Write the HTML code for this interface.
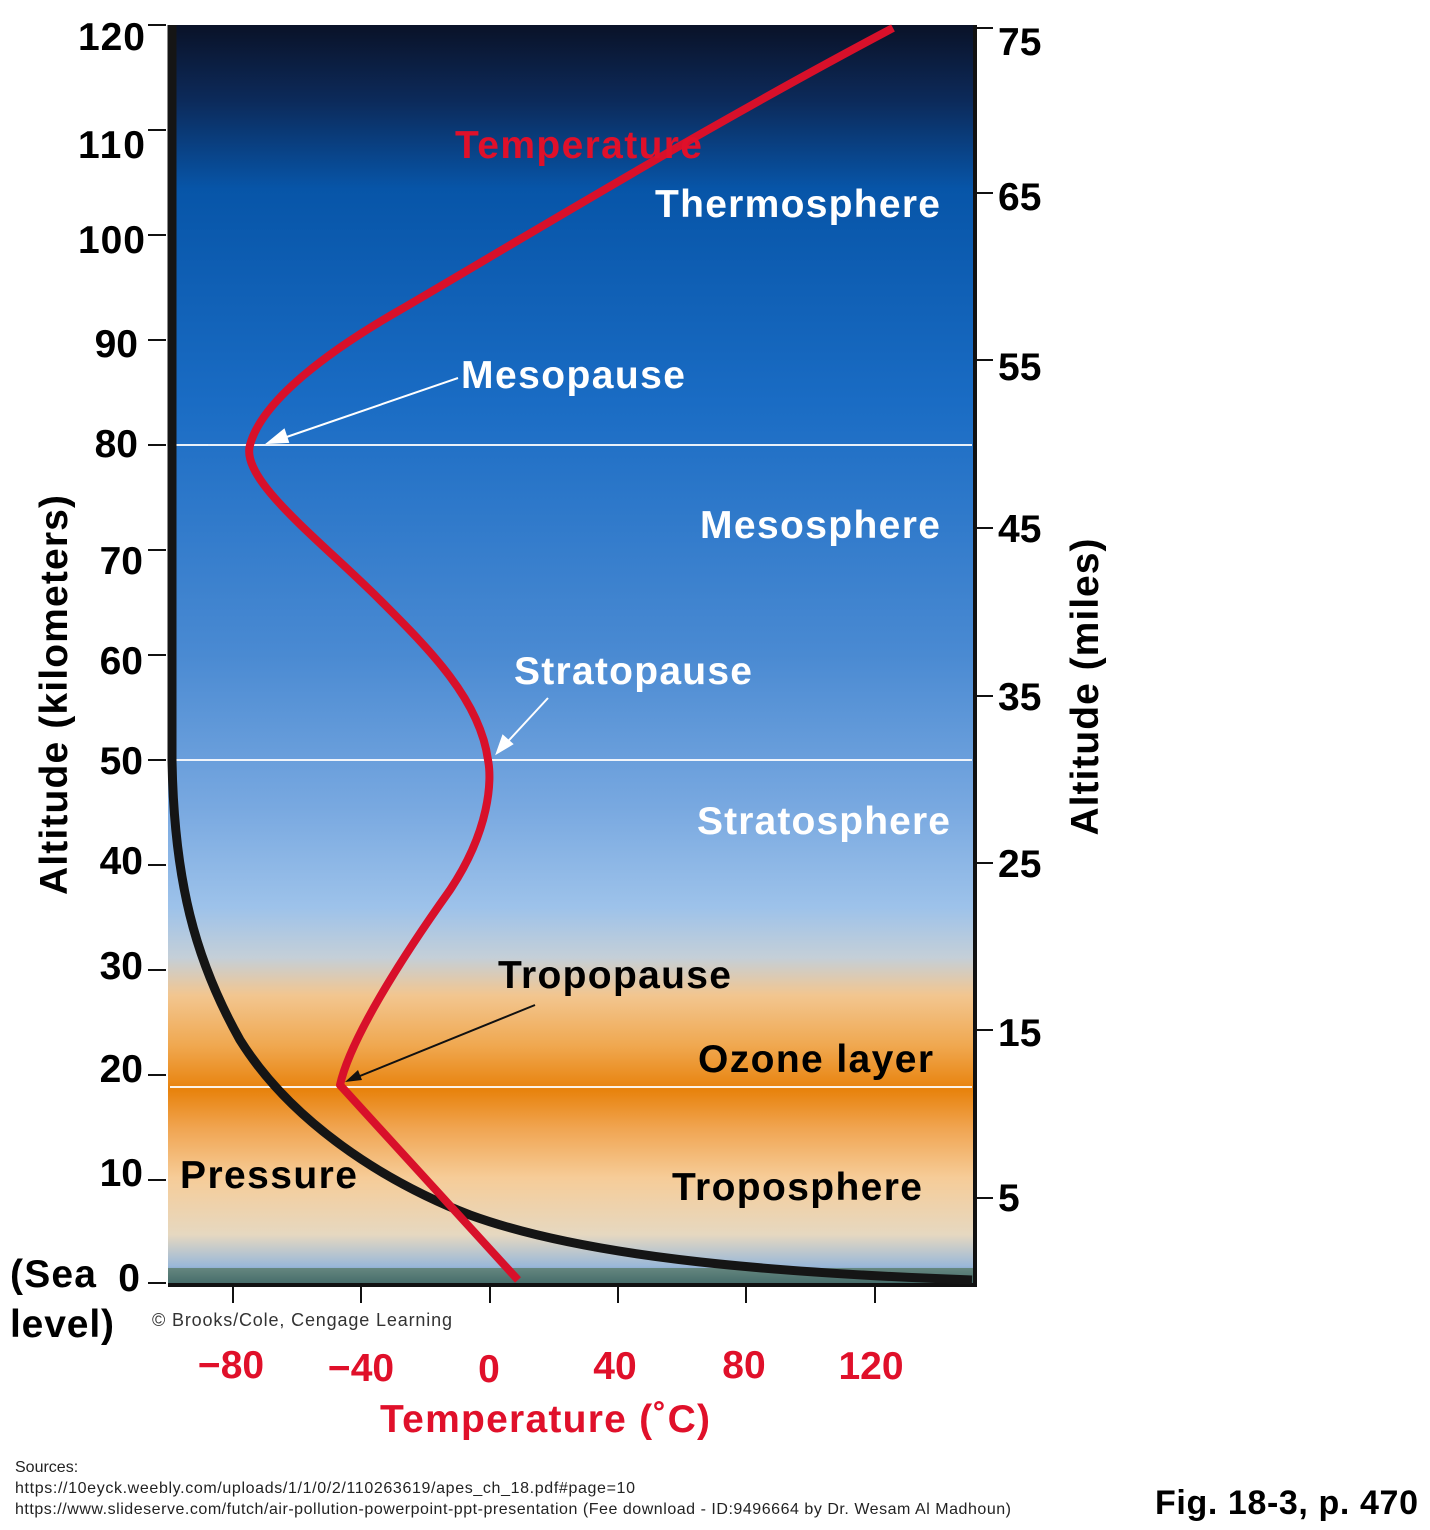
<!DOCTYPE html>
<html><head><meta charset="utf-8"><style>
html,body{margin:0;padding:0;background:#fff}
body{width:1430px;height:1530px;position:relative;overflow:hidden;font-family:"Liberation Sans",sans-serif}
</style></head><body>
<svg width="1430" height="1530" viewBox="0 0 1430 1530" style="position:absolute;left:0;top:0">
<defs>
<linearGradient id="sky" x1="0" y1="25" x2="0" y2="1285" gradientUnits="userSpaceOnUse">
<stop offset="0" stop-color="#0a1228"/>
<stop offset="0.06" stop-color="#0c2a5a"/>
<stop offset="0.13" stop-color="#0755a8"/>
<stop offset="0.3" stop-color="#1a6cc4"/>
<stop offset="0.5" stop-color="#4a8ad2"/>
<stop offset="0.62" stop-color="#78a8e0"/>
<stop offset="0.7" stop-color="#9dc2ea"/>
<stop offset="0.74" stop-color="#c4cfd8"/>
<stop offset="0.77" stop-color="#f2c690"/>
<stop offset="0.81" stop-color="#f0a850"/>
<stop offset="0.845" stop-color="#e8820c"/>
<stop offset="0.875" stop-color="#f0a450"/>
<stop offset="0.915" stop-color="#f6cc98"/>
<stop offset="0.96" stop-color="#e6d8c0"/>
<stop offset="0.985" stop-color="#9ab8d8"/>
<stop offset="1" stop-color="#3a6a9a"/>
</linearGradient>
</defs>
<rect x="168" y="25" width="807" height="1260" fill="url(#sky)"/>
<rect x="168" y="1268" width="807" height="15" fill="#4a6a48" opacity="0.6"/>
<path d="M975 25 V1285 H168" fill="none" stroke="#111" stroke-width="4"/>
<g stroke="#fff" stroke-width="2" opacity="0.9">
<line x1="170" y1="445" x2="972" y2="445"/><line x1="170" y1="760" x2="972" y2="760"/><line x1="170" y1="1087" x2="972" y2="1087"/>
</g>
<g stroke="#111" stroke-width="2">
<line x1="148" y1="25" x2="166" y2="25"/><line x1="148" y1="130" x2="166" y2="130"/><line x1="148" y1="235" x2="166" y2="235"/><line x1="148" y1="340" x2="166" y2="340"/><line x1="148" y1="445" x2="166" y2="445"/><line x1="148" y1="550" x2="166" y2="550"/><line x1="148" y1="655" x2="166" y2="655"/><line x1="148" y1="760" x2="166" y2="760"/><line x1="148" y1="865" x2="166" y2="865"/><line x1="148" y1="970" x2="166" y2="970"/><line x1="148" y1="1075" x2="166" y2="1075"/><line x1="148" y1="1180" x2="166" y2="1180"/><line x1="148" y1="1283" x2="166" y2="1283"/>
<line x1="975" y1="28" x2="993" y2="28"/><line x1="975" y1="193" x2="993" y2="193"/><line x1="975" y1="360" x2="993" y2="360"/><line x1="975" y1="528" x2="993" y2="528"/><line x1="975" y1="696" x2="993" y2="696"/><line x1="975" y1="863" x2="993" y2="863"/><line x1="975" y1="1030" x2="993" y2="1030"/><line x1="975" y1="1198" x2="993" y2="1198"/>
<line x1="233" y1="1285" x2="233" y2="1303"/><line x1="361" y1="1285" x2="361" y2="1303"/><line x1="490" y1="1285" x2="490" y2="1303"/><line x1="618" y1="1285" x2="618" y2="1303"/><line x1="746" y1="1285" x2="746" y2="1303"/><line x1="875" y1="1285" x2="875" y2="1303"/>
</g>
<path d="M172 25 L172 760 C174 880 195 960 240 1040 C290 1120 380 1180 470 1215 C580 1255 750 1272 972 1280" fill="none" stroke="#151515" stroke-width="9"/>
<path d="M518 1280 L340 1085 C350 1040 400 960 450 890 C490 830 492 780 488 760 C480 700 430 650 380 600 C320 540 240 480 250 445 C262 400 330 350 400 310 C520 240 700 130 893 28" fill="none" stroke="#d8102a" stroke-width="8" stroke-linejoin="round"/>
<g stroke="#fff" stroke-width="2" fill="#fff">
<line x1="458" y1="378" x2="272" y2="442"/><polygon points="268,443 284,430 288,442"/>
<line x1="548" y1="698" x2="500" y2="750"/><polygon points="497,753 503,736 512,744"/>
</g>
<line x1="535" y1="1005" x2="350" y2="1080" stroke="#111" stroke-width="2"/><polygon points="345,1082 358,1070 362,1080" fill="#111"/>
<g font-weight="bold" font-size="39" fill="#000">
<text x="145" y="50" text-anchor="end" textLength="67">120</text><text x="145" y="158" text-anchor="end" textLength="67">110</text><text x="145" y="253" text-anchor="end" textLength="67">100</text><text x="138" y="357" text-anchor="end">90</text><text x="138" y="457" text-anchor="end">80</text><text x="143" y="574" text-anchor="end">70</text><text x="143" y="674" text-anchor="end">60</text><text x="143" y="774" text-anchor="end">50</text><text x="143" y="874" text-anchor="end">40</text><text x="143" y="979" text-anchor="end">30</text><text x="143" y="1082" text-anchor="end">20</text><text x="143" y="1186" text-anchor="end">10</text><text x="140" y="1291" text-anchor="end">0</text>
<text x="998" y="55">75</text><text x="998" y="210">65</text><text x="998" y="380">55</text><text x="998" y="542">45</text><text x="998" y="710">35</text><text x="998" y="877">25</text><text x="998" y="1046">15</text><text x="998" y="1211">5</text>
<text x="10" y="1287" textLength="86">(Sea</text><text x="10" y="1337" textLength="104">level)</text>
<text transform="translate(67,695) rotate(-90)" text-anchor="middle" textLength="400">Altitude (kilometers)</text>
<text transform="translate(1098,687) rotate(-90)" text-anchor="middle" textLength="297">Altitude (miles)</text>
<text x="180" y="1188" textLength="177">Pressure</text>
<text x="498" y="988" textLength="233">Tropopause</text>
<text x="698" y="1072" textLength="235">Ozone layer</text>
<text x="672" y="1200" textLength="250">Troposphere</text>
</g>
<g font-weight="bold" font-size="39" fill="#fff">
<text x="655" y="217" textLength="285">Thermosphere</text>
<text x="461" y="388" textLength="224">Mesopause</text>
<text x="700" y="538" textLength="240">Mesosphere</text>
<text x="514" y="684" textLength="238">Stratopause</text>
<text x="697" y="834" textLength="253">Stratosphere</text>
</g>
<text x="455" y="158" font-weight="bold" font-size="39" fill="#e0102a" textLength="247">Temperature</text>
<g font-weight="bold" font-size="39" fill="#e0102a" text-anchor="middle">
<text x="231" y="1378">−80</text><text x="361" y="1381">−40</text><text x="489" y="1382">0</text><text x="615" y="1379">40</text><text x="744" y="1378">80</text><text x="871" y="1379">120</text>
<text x="545" y="1432" textLength="330">Temperature (˚C)</text>
</g>
<text x="152" y="1326" font-size="18" fill="#333" textLength="300">© Brooks/Cole, Cengage Learning</text>
<g font-size="16" fill="#222">
<text x="15" y="1472">Sources:</text>
<text x="15" y="1493" textLength="620">https://10eyck.weebly.com/uploads/1/1/0/2/110263619/apes_ch_18.pdf#page=10</text>
<text x="15" y="1514" textLength="996">https://www.slideserve.com/futch/air-pollution-powerpoint-ppt-presentation (Fee download - ID:9496664 by Dr. Wesam Al Madhoun)</text>
</g>
<text x="1418" y="1514" font-size="34" font-weight="bold" text-anchor="end" textLength="263">Fig. 18-3, p. 470</text>
</svg>
</body></html>
